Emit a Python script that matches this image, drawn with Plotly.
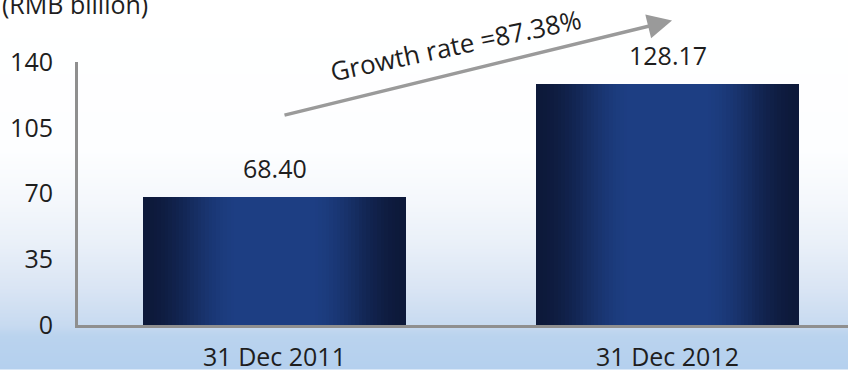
import base64
import struct
import zlib

import numpy as np
import plotly.graph_objects as go

# ---- data -------------------------------------------------------------
categories = ["31 Dec 2011", "31 Dec 2012"]
values = [68.40, 128.17]          # RMB billion
y_ticks = [0, 35, 70, 105, 140]
unit_label = "(RMB billion)"
growth_rate = (values[1] / values[0] - 1) * 100   # 87.38 %

# ---- figure geometry --------------------------------------------------
W, H = 848, 373
M_L, M_R, M_T, M_B = 78, 0, 62, 45
PW, PH = W - M_L - M_R, H - M_T - M_B

FONT = "Open Sans"
TEXT_COLOR = "#1e1e1e"
AXIS_COLOR = "#8f8f8f"


def px_to_paper(xp, yp):
    """Convert figure pixel coordinates to paper coordinates."""
    return (xp - M_L) / PW, (M_T + PH - yp) / PH


def png_data_uri(rgb):
    """Encode an HxWx3 uint8 array as a PNG data URI."""
    h, w, _ = rgb.shape
    raw = b"".join(b"\x00" + rgb[i].tobytes() for i in range(h))

    def chunk(tag, data):
        body = tag + data
        return (struct.pack(">I", len(data)) + body
                + struct.pack(">I", zlib.crc32(body) & 0xFFFFFFFF))

    png = (b"\x89PNG\r\n\x1a\n"
           + chunk(b"IHDR", struct.pack(">IIBBBBB", w, h, 8, 2, 0, 0, 0))
           + chunk(b"IDAT", zlib.compress(raw, 9))
           + chunk(b"IEND", b""))
    return "data:image/png;base64," + base64.b64encode(png).decode()


# soft sky backdrop: white at the top fading to pale blue at the bottom
stops_y = np.array([0, 150, 200, 250, 290, 328, 340, 373], float)
stops_c = np.array([
    [255, 255, 255],
    [253, 254, 255],
    [245, 248, 252],
    [232, 239, 248],
    [218, 229, 244],
    [199, 218, 240],
    [186, 211, 238],
    [180, 208, 238],
], float)
ys = np.arange(H)
col = np.stack([np.interp(ys, stops_y, stops_c[:, j]) for j in range(3)], axis=1)
bg = np.repeat(col[:, None, :], 8, axis=1).round().astype(np.uint8)
bg_uri = png_data_uri(bg)

fig = go.Figure()

# ---- bars with a horizontal navy sheen (stacked, narrowing overlays) --
dark = np.array([13, 25, 58], float)
light = np.array([29, 62, 131], float)
bar_width = 0.67
n_layers = 36


def smoothstep(a, b, t):
    s = np.clip((t - a) / (b - a), 0, 1)
    return s * s * (3 - 2 * s)


for k in range(n_layers):
    t = k / n_layers
    f = smoothstep(0.0, 0.72, t)
    c = dark + (light - dark) * f
    fig.add_trace(go.Bar(
        x=categories,
        y=values,
        width=bar_width * (1 - t),
        marker=dict(color="rgb(%d,%d,%d)" % tuple(c.round()), line=dict(width=0)),
        hoverinfo="skip",
        showlegend=False,
    ))

# ---- value labels -----------------------------------------------------
annotations = []
for cat, v in zip(categories, values):
    annotations.append(dict(
        x=cat, y=v, xref="x", yref="y",
        text=f"{v:.2f}", showarrow=False,
        yanchor="bottom", yshift=10,
        font=dict(family=FONT, size=25, color=TEXT_COLOR),
    ))

# unit label, top-left corner
ux, uy = px_to_paper(0, -16)
annotations.append(dict(
    x=ux, y=uy, xref="paper", yref="paper",
    xanchor="left", yanchor="top",
    text=unit_label, showarrow=False,
    font=dict(family=FONT, size=25, color=TEXT_COLOR),
))

# growth arrow
head_px = (672, 20)
tail_px = (283, 115)
hx, hy = px_to_paper(*head_px)
annotations.append(dict(
    x=hx, y=hy, xref="paper", yref="paper",
    ax=tail_px[0] - head_px[0], ay=tail_px[1] - head_px[1],
    axref="pixel", ayref="pixel",
    text="", showarrow=True,
    arrowhead=2, arrowsize=1.4, arrowwidth=3.5, arrowcolor="#9a9a9a",
    standoff=0, startstandoff=0,
))
gx, gy = px_to_paper(456, 45)
annotations.append(dict(
    x=gx, y=gy, xref="paper", yref="paper",
    xanchor="center", yanchor="middle",
    text=f"Growth rate ={growth_rate:.2f}%", showarrow=False,
    textangle=-12, borderpad=0,
    font=dict(family=FONT, size=26, color=TEXT_COLOR),
))

fig.update_layout(
    width=W, height=H,
    margin=dict(l=M_L, r=M_R, t=M_T, b=M_B, pad=0),
    barmode="overlay",
    bargap=0,
    paper_bgcolor="rgba(0,0,0,0)",
    plot_bgcolor="rgba(0,0,0,0)",
    showlegend=False,
    annotations=annotations,
    images=[dict(
        source=bg_uri, xref="paper", yref="paper",
        x=-M_L / PW, y=1 + M_T / PH,
        sizex=W / PW, sizey=H / PH,
        xanchor="left", yanchor="top",
        sizing="stretch", layer="below",
    )],
    xaxis=dict(
        type="category",
        range=[-0.5, -0.5 + PW / 393.0],
        showline=True, linecolor=AXIS_COLOR, linewidth=3,
        showgrid=False, zeroline=False,
        ticks="outside", ticklen=8, tickcolor="rgba(0,0,0,0)",
        tickfont=dict(family=FONT, size=25, color=TEXT_COLOR),
        fixedrange=True,
    ),
    yaxis=dict(
        range=[0, 140],
        tickmode="array", tickvals=y_ticks,
        showline=True, linecolor=AXIS_COLOR, linewidth=3,
        showgrid=False, zeroline=False,
        ticks="outside", ticklen=17, tickcolor="rgba(0,0,0,0)",
        tickfont=dict(family=FONT, size=25, color=TEXT_COLOR),
        fixedrange=True,
    ),
)

fig.write_html("out.html", config={"displayModeBar": False})
